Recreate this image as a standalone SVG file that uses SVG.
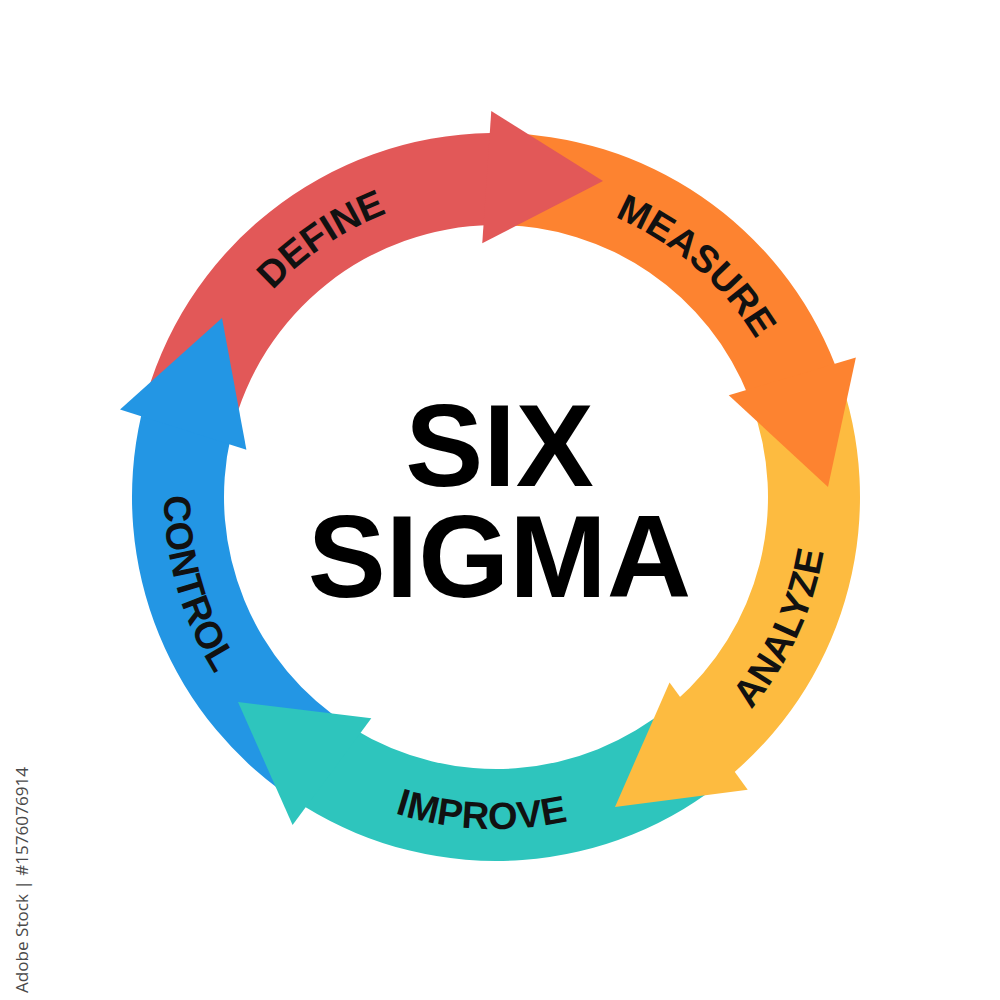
<svg xmlns="http://www.w3.org/2000/svg" xmlns:xlink="http://www.w3.org/1999/xlink" width="1000" height="1000" viewBox="0 0 1000 1000">
<style>
.lbl{font-family:"Liberation Sans",Arial,sans-serif;font-weight:bold;font-size:38px;fill:#111}
.title{font-family:"Liberation Sans",Arial,sans-serif;font-weight:bold;font-size:117px;fill:#000;text-anchor:middle}
.red{fill:#E25858}.orange{fill:#FD8330}.yellow{fill:#FDBB40}.teal{fill:#2EC5BD}.blue{fill:#2396E4}
</style>
<defs>
<path id="pDefine" d="M222.5,364.2 A304,304 0 0 1 474.3,193.8"/>
<path id="pMeasure" d="M553.5,198.5 A304,304 0 0 1 783.3,397.5"/>
<path id="pAnalyze" d="M688.3,767.6 A332,332 0 0 0 826.5,465.8"/>
<path id="pImprove" d="M317.1,776.7 A332,332 0 0 0 648.8,791.7"/>
<path id="pControl" d="M173.9,416.7 A332,332 0 0 0 265.4,735.8"/>
</defs>
<rect width="1000" height="1000" fill="#fff"/>
<g id="connectors">
<path class="red" d="M142.66,409.56 A364,364 0 0 1 490.28,133.04 L491.73,225.03 A272,272 0 0 0 231.96,431.66 Z"/>
<path class="orange" d="M496.64,133 A364,364 0 0 1 834.91,364.18 L749.25,397.75 A272,272 0 0 0 496.47,225 Z"/>
<path class="yellow" d="M837.17,370.12 A364,364 0 0 1 734.33,772.13 L674.09,702.59 A272,272 0 0 0 750.94,402.19 Z"/>
<path class="teal" d="M729.49,776.25 A364,364 0 0 1 305.27,807.03 L353.47,728.67 A272,272 0 0 0 670.47,705.67 Z"/>
<path class="blue" d="M299.89,803.65 A364,364 0 0 1 141.18,415.74 L230.86,436.28 A272,272 0 0 0 349.45,726.15 Z"/>
<polygon class="red" points="482.26,243.37 491.28,111.03 603,181"/>
<polygon class="orange" points="728.76,395.31 855.88,357.41 828,487"/>
<polygon class="yellow" points="669.55,682.46 747.71,789.64 615,807"/>
<polygon class="teal" points="371.31,718.29 292.59,825.06 238,702"/>
<polygon class="blue" points="246.42,449.84 120.04,409.51 222,318"/>
</g>
<g id="define"><text class="lbl"><textPath xlink:href="#pDefine" href="#pDefine" startOffset="50%" text-anchor="middle">DEFINE</textPath></text></g>
<g id="measure"><text class="lbl"><textPath xlink:href="#pMeasure" href="#pMeasure" startOffset="50%" text-anchor="middle">MEASURE</textPath></text></g>
<g id="analyze"><text class="lbl"><textPath xlink:href="#pAnalyze" href="#pAnalyze" startOffset="50%" text-anchor="middle">ANALYZE</textPath></text></g>
<g id="improve"><text class="lbl"><textPath xlink:href="#pImprove" href="#pImprove" startOffset="50%" text-anchor="middle">IMPROVE</textPath></text></g>
<g id="control"><text class="lbl"><textPath xlink:href="#pControl" href="#pControl" startOffset="50%" text-anchor="middle">CONTROL</textPath></text></g>
<g id="center">
<text class="title"><tspan x="499.5" y="486">SIX</tspan><tspan x="499.5" y="597">SIGMA</tspan></text>
</g>
<text x="28" y="880" transform="rotate(-90 28 880)" text-anchor="middle" font-family="'Open Sans',sans-serif" font-size="16" fill="#4a4a4a" textLength="226" lengthAdjust="spacingAndGlyphs">Adobe Stock | #1576076914</text>
</svg>
